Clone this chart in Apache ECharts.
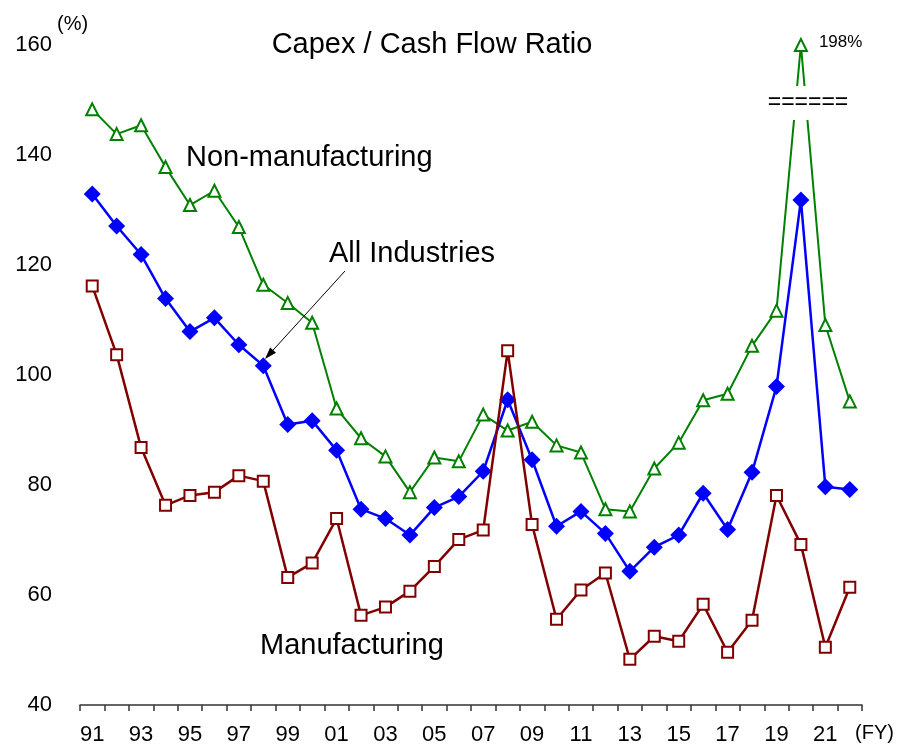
<!DOCTYPE html>
<html>
<head>
<meta charset="utf-8">
<script src="https://cdn.jsdelivr.net/npm/echarts@6/dist/echarts.min.js"></script>
<style>
  html, body { margin: 0; padding: 0; background: #fff; }
  #main { width: 900px; height: 746px; }
</style>
</head>
<body>
<div id="main"></div>
<script>
// 年度（FY）
const years = ['91', '92', '93', '94', '95', '96', '97', '98', '99', '00', '01', '02', '03', '04', '05', '06',
  '07', '08', '09', '10', '11', '12', '13', '14', '15', '16', '17', '18', '19', '20', '21', '22']
// 非製造業
const nonMfg = [148.3, 143.8, 145.4, 137.8, 130.9, 133.5, 126.9, 116.4, 113.1, 109.5, 93.9, 88.5, 85.2, 78.7, 85.0, 84.3,
  92.8, 89.9, 91.5, 87.2, 85.9, 75.6, 75.2, 83.0, 87.7, 95.4, 96.6, 105.3, 111.7, 198, 109.1, 95.2]
// 全産業
const allInd = [132.9, 127.1, 121.9, 113.9, 107.9, 110.4, 105.5, 101.7, 91.0, 91.7, 86.3, 75.6, 73.9, 70.9, 75.9, 77.9,
  82.5, 95.5, 84.6, 72.5, 75.2, 71.2, 64.3, 68.7, 70.9, 78.5, 71.9, 82.3, 97.9, 131.8, 79.7, 79.2]
// 製造業
const mfg = [116.2, 103.7, 86.8, 76.3, 78.1, 78.7, 81.7, 80.7, 63.2, 65.8, 73.9, 56.3, 57.8, 60.7, 65.2, 70.1,
  71.8, 104.4, 72.8, 55.6, 60.9, 64.0, 48.3, 52.5, 51.6, 58.3, 49.6, 55.4, 78.1, 69.2, 50.5, 61.4]

const Y_MIN = 40
const Y_MAX = 160
const Y_STEP = 20

const GREEN = '#008000'
const BLUE = '#0000ff'
const RED = '#800000'
const FONT = 'Liberation Sans, Arial, sans-serif'

let myChart = echarts.init(document.getElementById('main'))

// 超出上限的点画在上限处，标签显示实际值
const nonMfgPlot = nonMfg.map((v) => ({
  value: Math.min(v, Y_MAX),
  real: v,
  label: { show: v > Y_MAX },
}))

function txt(text, x, y, size, align) {
  return {
    type: 'text',
    x: x,
    y: y,
    z: 110,
    style: {
      text: text,
      fill: '#000',
      font: size + 'px ' + FONT,
      textAlign: align || 'left',
      textVerticalAlign: 'middle',
    },
  }
}

// 箭头 All Industries
const ax1 = 345, ay1 = 271, ax2 = 265, ay2 = 359
const len = Math.hypot(ax2 - ax1, ay2 - ay1)
const ux = (ax2 - ax1) / len, uy = (ay2 - ay1) / len
const hl = 12, hw = 4

let option = {
  animation: false,
  backgroundColor: '#fff',
  grid: { left: 80, right: 38, top: 45, bottom: 40 },
  xAxis: {
    type: 'category',
    data: years,
    boundaryGap: true,
    axisLine: { show: true, lineStyle: { color: '#333', width: 1.5 } },
    axisTick: { show: true, interval: 0, length: 6, lineStyle: { color: '#333', width: 1.5 } },
    axisLabel: { interval: 1, color: '#000', fontSize: 22, fontFamily: FONT, margin: 19 },
    splitLine: { show: false },
  },
  yAxis: {
    type: 'value',
    min: Y_MIN,
    max: Y_MAX,
    interval: Y_STEP,
    axisLine: { show: false },
    axisTick: { show: false },
    splitLine: { show: false },
    axisLabel: { color: '#000', fontSize: 22, fontFamily: FONT, margin: 28 },
  },
  series: [
    {
      name: 'Non-manufacturing',
      type: 'line',
      data: nonMfgPlot,
      clip: false,
      showAllSymbol: true,
      symbol: 'emptyTriangle',
      symbolSize: 12,
      lineStyle: { color: GREEN, width: 2 },
      itemStyle: { color: GREEN, borderWidth: 1.5 },
      label: {
        position: 'right',
        distance: 11,
        offset: [0, -3],
        color: '#000',
        fontSize: 17,
        fontFamily: FONT,
        formatter: (p) => p.data.real + '%',
      },
      z: 2,
    },
    {
      name: 'All Industries',
      type: 'line',
      data: allInd,
      showAllSymbol: true,
      symbol: 'diamond',
      symbolSize: 17,
      lineStyle: { color: BLUE, width: 2.5 },
      itemStyle: { color: BLUE },
      z: 3,
    },
    {
      name: 'Manufacturing',
      type: 'line',
      data: mfg,
      showAllSymbol: true,
      symbol: 'emptyRect',
      symbolSize: 11,
      lineStyle: { color: RED, width: 2.5 },
      itemStyle: { color: RED, borderWidth: 1.5 },
      z: 4,
    },
  ],
  graphic: [
    txt('Capex / Cash Flow Ratio', 432, 45, 29, 'center'),
    txt('Non-manufacturing', 186, 158, 29),
    txt('All Industries', 329, 254, 29),
    txt('Manufacturing', 260, 646, 29),
    txt('(%)', 57, 24, 20),
    txt('(FY)', 855, 733, 20),
    // 断轴标记
    {
      type: 'rect',
      z: 100,
      shape: { x: 765, y: 86, width: 87, height: 34 },
      style: { fill: '#fff' },
    },
    txt('======', 808, 103, 23, 'center'),
    {
      type: 'line',
      z: 110,
      shape: { x1: ax1, y1: ay1, x2: ax2 - ux * hl * 0.8, y2: ay2 - uy * hl * 0.8 },
      style: { stroke: '#000', lineWidth: 1 },
    },
    {
      type: 'polygon',
      z: 110,
      shape: {
        points: [
          [ax2, ay2],
          [ax2 - ux * hl - uy * hw, ay2 - uy * hl + ux * hw],
          [ax2 - ux * hl + uy * hw, ay2 - uy * hl - ux * hw],
        ],
      },
      style: { fill: '#000' },
    },
  ],
}

myChart.setOption(option)
</script>
</body>
</html>
